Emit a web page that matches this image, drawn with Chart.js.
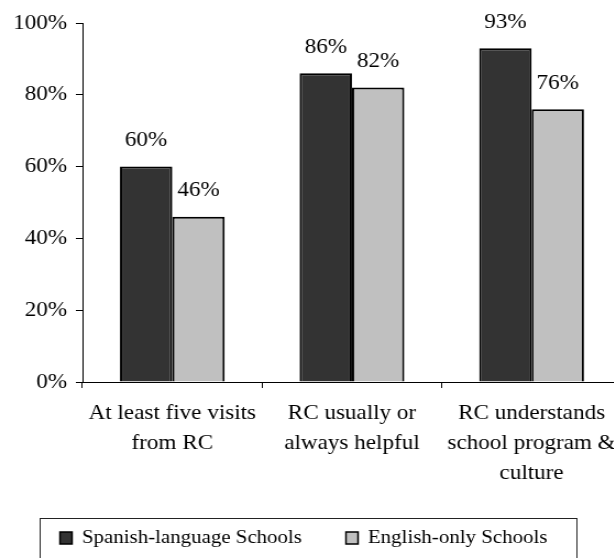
<!DOCTYPE html>
<html>
<head>
<meta charset="utf-8">
<script src="https://cdn.jsdelivr.net/npm/chart.js@4/dist/chart.umd.min.js"></script>
<style>
  html, body { margin: 0; padding: 0; background: #fff; overflow: hidden; }
  /* serif text in this chart is set wide, so the whole chart is stretched horizontally */
  #wrap { width: 570px; height: 558px; transform-origin: 0 0; transform: scaleX(1.1); }
  #chart { display: block; }
</style>
</head>
<body>
<div id="wrap"><canvas id="chart" width="570" height="558"></canvas></div>
<script>
'use strict';

const categories = [
  ['At least five visits', 'from RC'],
  ['RC usually or', 'always helpful'],
  ['RC understands', 'school program &', 'culture'],
];
const spanishSchools = [60, 86, 93];
const englishSchools = [46, 82, 76];
const seriesNames = ['Spanish-language Schools', 'English-only Schools'];
const yTicks = [0, 20, 40, 60, 80, 100];

const SERIF = '"Liberation Serif", "Times New Roman", serif';

// Percent labels above every bar
const valueLabels = {
  id: 'valueLabels',
  afterDatasetsDraw(chart) {
    const ctx = chart.ctx;
    ctx.save();
    ctx.font = 'normal 21px ' + SERIF;
    ctx.fillStyle = '#000';
    ctx.textAlign = 'center';
    ctx.textBaseline = 'middle';
    chart.data.datasets.forEach((ds, i) => {
      chart.getDatasetMeta(i).data.forEach((bar, j) => {
        ctx.fillText(ds.data[j] + '%', bar.x, bar.y - 26);
      });
    });
    ctx.restore();
  }
};

// Boxed legend along the bottom edge
const boxLegend = {
  id: 'boxLegend',
  afterDraw(chart) {
    const ctx = chart.ctx;
    const top = 518;
    const midY = 538;
    ctx.save();
    ctx.strokeStyle = '#222';
    ctx.lineWidth = 1;
    ctx.strokeRect(36.5, top + 0.5, 488, 60);

    ctx.font = 'normal 19px ' + SERIF;
    ctx.textAlign = 'left';
    ctx.textBaseline = 'middle';
    let x = 54.5;
    chart.data.datasets.forEach((ds) => {
      ctx.fillStyle = ds.backgroundColor;
      ctx.fillRect(x, midY - 6, 11, 12);
      ctx.strokeStyle = '#000';
      ctx.lineWidth = 1.5;
      ctx.strokeRect(x, midY - 6, 11, 12);
      ctx.fillStyle = '#000';
      ctx.fillText(ds.label, x + 20, midY);
      x += 20 + ctx.measureText(ds.label).width + 40;
    });
    ctx.restore();
  }
};

const chart = new Chart(document.getElementById('chart'), {
  type: 'bar',
  data: {
    labels: categories,
    datasets: [
      {
        label: seriesNames[0],
        data: spanishSchools,
        backgroundColor: '#333333',
        borderColor: '#000',
        borderWidth: 2,
      },
      {
        label: seriesNames[1],
        data: englishSchools,
        backgroundColor: '#c0c0c0',
        borderColor: '#000',
        borderWidth: 2,
      }
    ]
  },
  options: {
    responsive: false,
    animation: false,
    categoryPercentage: 0.583,
    barPercentage: 1,
    layout: {
      padding: { left: 0, right: 2, top: 23, bottom: 0 }
    },
    plugins: {
      legend: { display: false },
      tooltip: { enabled: false },
    },
    scales: {
      x: {
        afterFit: (scale) => { scale.height = 176; },
        grid: { drawOnChartArea: false, tickLength: 6, color: '#000' },
        border: { color: '#000' },
        ticks: {
          color: '#000',
          padding: 10,
          maxRotation: 0,
          autoSkip: false,
          font: { family: SERIF, size: 21, lineHeight: 1.43 },
        },
      },
      y: {
        min: yTicks[0],
        max: yTicks[yTicks.length - 1],
        afterFit: (scale) => { scale.width = 75; },
        grid: { drawOnChartArea: false, tickLength: 6, color: '#000' },
        border: { color: '#000' },
        ticks: {
          color: '#000',
          padding: 8,
          stepSize: yTicks[1] - yTicks[0],
          font: { family: SERIF, size: 21 },
          callback: (v) => v + '%',
        },
      }
    }
  },
  plugins: [valueLabels, boxLegend]
});

// redraw once the serif face is ready for the canvas
setTimeout(() => chart.update(), 100);
</script>
</body>
</html>
